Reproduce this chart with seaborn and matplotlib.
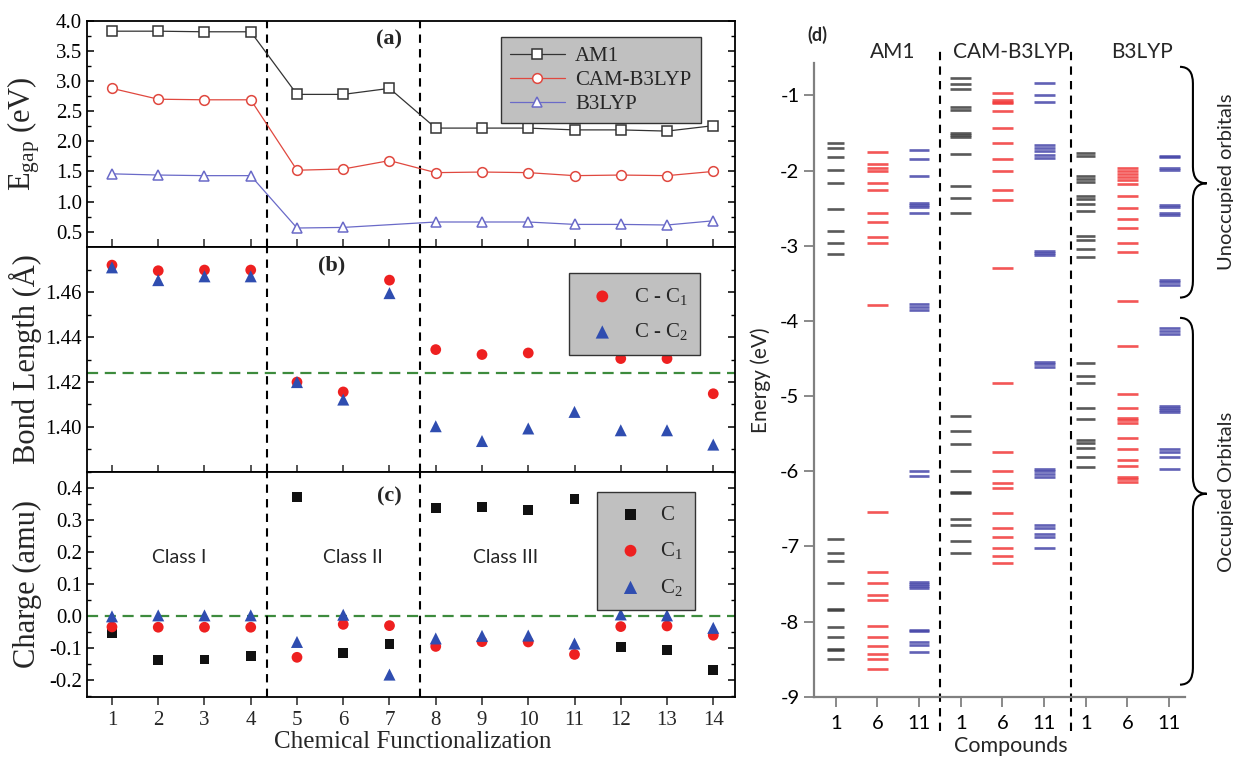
import numpy as np
import pandas as pd
import matplotlib
matplotlib.use("Agg")
import matplotlib.pyplot as plt
import seaborn as sns
from matplotlib.path import Path
from matplotlib.patches import PathPatch
from matplotlib.ticker import MultipleLocator, FormatStrFormatter, FixedLocator

# ---------------- data: panels (a)-(c) ----------------
functionalization = list(range(1, 15))

gap_am1 = [3.83, 3.83, 3.82, 3.82, 2.78, 2.78, 2.88, 2.22, 2.22, 2.22, 2.19, 2.19, 2.17, 2.26]
gap_cam = [2.88, 2.70, 2.69, 2.69, 1.52, 1.54, 1.68, 1.48, 1.49, 1.48, 1.43, 1.44, 1.43, 1.50]
gap_b3lyp = [1.46, 1.44, 1.43, 1.43, 0.56, 0.57, np.nan, 0.66, 0.66, 0.66, 0.62, 0.62, 0.61, 0.68]

bond_c_c1 = [1.4722, 1.4697, 1.4700, 1.4700, 1.4200, 1.4156, 1.4655, 1.4345, 1.4323, 1.4330,
             1.4360, 1.4305, 1.4305, 1.4148]
bond_c_c2 = [1.4712, 1.4655, 1.4672, 1.4672, 1.4200, 1.4122, 1.4597, 1.4003, 1.3937, 1.3993,
             1.4067, 1.3985, 1.3985, 1.3921]
bond_ref = 1.424
bond_ticks = [1.40, 1.42, 1.44, 1.46]

charge_c = [-0.053, -0.136, -0.135, -0.125, 0.374, -0.114, -0.086, 0.339, 0.342, 0.332,
            0.368, -0.096, -0.105, -0.168]
charge_c1 = [-0.033, -0.034, -0.034, -0.034, -0.128, -0.025, -0.029, -0.094, -0.079, -0.080,
             -0.119, -0.032, -0.030, -0.059]
charge_c2 = [0.0, 0.003, 0.003, 0.003, -0.080, 0.005, -0.182, -0.069, -0.061, -0.060,
             -0.085, 0.006, 0.003, -0.036]
charge_ref = 0.0

class_labels = ["Class I", "Class II", "Class III"]
class_label_x = [2.45, 6.2, 9.5]
class_bounds = [4.35, 7.67]

# ---------------- data: panel (d) energy levels (eV) ----------------
methods = ["AM1", "CAM-B3LYP", "B3LYP"]
compounds = ["1", "6", "11"]

am1_c1 = [-1.64, -1.70, -1.82, -1.99, -2.17, -2.51, -2.80, -2.96, -3.11,
          -6.90, -7.09, -7.20, -7.49, -7.83, -7.85, -8.07, -8.20, -8.36, -8.38, -8.50]
am1_c6 = [-1.75, -1.91, -1.97, -2.00, -2.17, -2.26, -2.56, -2.69, -2.89, -2.96, -3.79,
          -6.54, -7.34, -7.49, -7.65, -7.71, -8.06, -8.20, -8.33, -8.43, -8.50, -8.63]
am1_c11 = [-1.72, -1.84, -2.07, -2.43, -2.46, -2.49, -2.57, -3.78, -3.82, -3.85,
           -6.00, -6.06, -7.47, -7.50, -7.53, -7.56, -8.11, -8.13, -8.27, -8.31, -8.40]

cam_c1 = [-0.77, -0.85, -0.91, -1.16, -1.20, -1.50, -1.53, -1.56, -1.78, -2.21, -2.37, -2.57,
          -5.27, -5.47, -5.64, -6.00, -6.28, -6.29, -6.63, -6.72, -6.93, -7.09]
cam_c6 = [-0.97, -1.06, -1.09, -1.10, -1.21, -1.43, -1.64, -1.84, -2.00, -2.26, -2.39, -3.30,
          -4.83, -5.74, -6.00, -6.16, -6.23, -6.56, -6.75, -6.88, -7.02, -7.13, -7.22]
cam_c11 = [-0.84, -1.00, -1.09, -1.66, -1.70, -1.74, -1.79, -1.83, -3.07, -3.10, -3.13,
           -4.55, -4.58, -4.61, -5.97, -6.00, -6.04, -6.08, -6.71, -6.75, -6.83, -6.87, -7.02]

b3lyp_c1 = [-1.77, -1.81, -2.07, -2.11, -2.15, -2.34, -2.38, -2.44, -2.54, -2.87, -2.92, -3.04, -3.15,
            -4.56, -4.73, -4.83, -5.16, -5.31, -5.58, -5.62, -5.69, -5.81, -5.94]
b3lyp_c6 = [-1.96, -2.00, -2.05, -2.09, -2.13, -2.18, -2.34, -2.50, -2.64, -2.76, -2.96, -3.08, -3.73,
            -4.33, -4.97, -5.16, -5.29, -5.32, -5.36, -5.56, -5.71, -5.85, -5.93, -6.08, -6.11, -6.14]
b3lyp_c11 = [-1.80, -1.82, -1.96, -1.99, -2.46, -2.49, -2.56, -2.59, -3.45, -3.48, -3.52,
             -4.10, -4.13, -4.17, -5.13, -5.16, -5.19, -5.21, -5.71, -5.74, -5.81, -5.97]

level_sets = {
    "AM1": [am1_c1, am1_c6, am1_c11],
    "CAM-B3LYP": [cam_c1, cam_c6, cam_c11],
    "B3LYP": [b3lyp_c1, b3lyp_c6, b3lyp_c11],
}

# ---------------- style ----------------
sns.set_theme(style="ticks")
plt.rcParams["font.family"] = ["Liberation Serif", "DejaVu Serif"]
plt.rcParams["mathtext.fontset"] = "custom"
plt.rcParams["mathtext.rm"] = "Liberation Serif"
plt.rcParams["mathtext.it"] = "Liberation Serif:italic"
plt.rcParams["mathtext.bf"] = "Liberation Serif:bold"
plt.rcParams["axes.linewidth"] = 1.3
SANS = ["Lato", "DejaVu Sans"]

fig = plt.figure(figsize=(12.33, 7.59), dpi=100)
L, W = 87 / 1233, 648 / 1233
ax_a = fig.add_axes([L, 0.675, W, 0.2974])
ax_b = fig.add_axes([L, 0.3785, W, 0.2964])
ax_c = fig.add_axes([L, 0.0817, W, 0.2968])
ax_d = fig.add_axes([814 / 1233, 0.0821, 371 / 1233, 0.8353])

TICK_FS = 15
# ---------------- panel (a) ----------------
df_gap = pd.DataFrame({"x": functionalization, "AM1": gap_am1,
                       "CAM-B3LYP": gap_cam, "B3LYP": gap_b3lyp})
gap_styles = {"AM1": ("#333333", "s"), "CAM-B3LYP": ("#e0483f", "o"), "B3LYP": ("#6a6ac8", "^")}
for m in ["AM1", "CAM-B3LYP", "B3LYP"]:
    col, mk = gap_styles[m]
    sub = df_gap[["x", m]].dropna()
    sns.lineplot(data=sub, x="x", y=m, ax=ax_a, color=col, marker=mk,
                 markersize=7 if mk != "s" else 6.5,
                 markerfacecolor="white", markeredgecolor=col, markeredgewidth=1.1,
                 linewidth=0.9, label=m)
ax_a.set_ylim(0.25, 4.0)
ax_a.yaxis.set_major_locator(MultipleLocator(0.5))
ax_a.yaxis.set_minor_locator(MultipleLocator(0.25))
ax_a.yaxis.set_major_formatter(FormatStrFormatter("%.1f"))
ax_a.set_ylabel(r"E$_\mathregular{gap}$ (eV)", fontsize=22)
leg = ax_a.legend(loc="upper right", bbox_to_anchor=(0.963, 0.973), fontsize=15,
                  frameon=True, fancybox=False, facecolor="#c0c0c0", edgecolor="#333333",
                  framealpha=1, handlelength=2.6, borderpad=0.45, labelspacing=0.2,
                  handletextpad=0.5)
leg.get_frame().set_linewidth(1.0)
ax_a.text(7.0, 3.7, "(a)", fontsize=16, fontweight="bold", ha="center", va="center")

# ---------------- panel (b) ----------------
df_bond = pd.DataFrame({"x": functionalization, "c1": bond_c_c1, "c2": bond_c_c2})
ax_b.axhline(bond_ref, color="#3d8b3d", lw=1.6, ls=(0, (5, 3)), zorder=1)
sns.scatterplot(data=df_bond, x="x", y="c1", ax=ax_b, marker="o", color="#ee2020", s=60,
                edgecolor="none", label=r"C - C$_\mathregular{1}$", zorder=3)
sns.scatterplot(data=df_bond, x="x", y="c2", ax=ax_b, marker="^", color="#2f4db0", s=75,
                edgecolor="none", label=r"C - C$_\mathregular{2}$", zorder=4)
ax_b.set_ylim(1.38, 1.4804)
ax_b.yaxis.set_major_locator(FixedLocator(bond_ticks))
ax_b.yaxis.set_minor_locator(FixedLocator([1.39, 1.41, 1.43, 1.45, 1.47]))
ax_b.yaxis.set_major_formatter(FormatStrFormatter("%.2f"))
ax_b.set_ylabel("Bond Length (Å)", fontsize=22)
leg = ax_b.legend(loc="upper right", bbox_to_anchor=(0.962, 0.928), fontsize=15,
                  frameon=True, fancybox=False, facecolor="#c0c0c0", edgecolor="#333333",
                  framealpha=1, handletextpad=0.5, borderpad=0.6, labelspacing=0.7,
                  markerscale=1.1)
leg.get_frame().set_linewidth(1.0)
ax_b.text(5.75, 1.472, "(b)", fontsize=16, fontweight="bold", ha="center", va="center")

# ---------------- panel (c) ----------------
df_ch = pd.DataFrame({"x": functionalization, "C": charge_c, "C1": charge_c1, "C2": charge_c2})
ax_c.axhline(charge_ref, color="#3d8b3d", lw=1.6, ls=(0, (5, 3)), zorder=1)
sns.scatterplot(data=df_ch, x="x", y="C", ax=ax_c, marker="s", color="#111111", s=50,
                edgecolor="none", label="C", zorder=3)
sns.scatterplot(data=df_ch, x="x", y="C1", ax=ax_c, marker="o", color="#ee2020", s=60,
                edgecolor="none", label=r"C$_\mathregular{1}$", zorder=4)
sns.scatterplot(data=df_ch, x="x", y="C2", ax=ax_c, marker="^", color="#2f4db0", s=75,
                edgecolor="none", label=r"C$_\mathregular{2}$", zorder=5)
ax_c.set_ylim(-0.252, 0.452)
ax_c.yaxis.set_major_locator(MultipleLocator(0.1))
ax_c.yaxis.set_minor_locator(MultipleLocator(0.05))
ax_c.yaxis.set_major_formatter(FormatStrFormatter("%.1f"))
ax_c.set_ylabel("Charge (amu)", fontsize=22)
ax_c.set_xlabel("Chemical Functionalization", fontsize=18)
leg = ax_c.legend(loc="upper right", bbox_to_anchor=(0.954, 0.954), fontsize=15,
                  frameon=True, fancybox=False, facecolor="#c0c0c0", edgecolor="#333333",
                  framealpha=1, handletextpad=0.4, borderpad=0.6, labelspacing=0.75,
                  markerscale=1.1)
leg.get_frame().set_linewidth(1.0)
ax_c.text(7.0, 0.375, "(c)", fontsize=16, fontweight="bold", ha="center", va="center")
for lab, lx in zip(class_labels, class_label_x):
    ax_c.text(lx, 0.185, lab, fontsize=14, ha="center", va="center", family=SANS)

# common styling for left panels
for ax in (ax_a, ax_b, ax_c):
    ax.set_xlim(0.46, 14.47)
    ax.set_xticks(functionalization)
    for xb in class_bounds:
        ax.axvline(xb, color="black", lw=1.5, ls=(0, (4, 3)), zorder=1)
    for s in ax.spines.values():
        s.set_visible(True)
        s.set_color("black")
        s.set_linewidth(1.3)
    ax.tick_params(axis="y", which="both", direction="in", left=True, right=True,
                   labelsize=TICK_FS, colors="black")
    ax.tick_params(axis="y", which="major", length=5, width=1.1)
    ax.tick_params(axis="y", which="minor", length=3, width=1.0)
    ax.yaxis.set_label_coords(-0.07, 0.5)
    ax.grid(False)

ax_a.tick_params(axis="x", direction="in", length=6, width=1.1, top=False,
                 labelbottom=False)
ax_a.set_xlabel("")
ax_b.tick_params(axis="x", direction="inout", length=10, width=1.1, top=False,
                 labelbottom=False)
ax_b.set_xlabel("")
ax_c.tick_params(axis="x", direction="out", length=6, width=1.1, top=False,
                 labelsize=TICK_FS, pad=4)
ax_c.xaxis.set_label_coords(0.503, -0.15)

# ---------------- panel (d) ----------------
rows = []
for gi, m in enumerate(methods):
    for ci, cmp in enumerate(compounds):
        for e in level_sets[m][ci]:
            rows.append({"method": m, "compound": cmp, "pos": 3 * gi + ci, "energy": e})
df_lv = pd.DataFrame(rows)
level_colors = {"1": "#3c3c3c", "6": "#f23838", "11": "#4545a8"}
half_w = {("AM1", "1"): 0.21, ("B3LYP", "1"): 0.23}
for (m, cmp), sub in df_lv.groupby(["method", "compound"], sort=False):
    hw = half_w.get((m, cmp), 0.25)
    ax_d.hlines(sub["energy"], sub["pos"] - hw, sub["pos"] + hw,
                colors=level_colors[cmp], lw=1.9, alpha=0.85)

ax_d.set_xlim(-0.52, 8.38)
ax_d.set_ylim(-9, -0.565)
ax_d.set_yticks(range(-9, 0))
ax_d.set_yticklabels([str(v) for v in range(-9, 0)], family=SANS)
ax_d.set_xticks(range(9))
ax_d.set_xticklabels(compounds * 3, family=SANS)
sns.despine(ax=ax_d)
for s in ("left", "bottom"):
    ax_d.spines[s].set_color("#808080")
    ax_d.spines[s].set_linewidth(1.6)
ax_d.tick_params(axis="both", direction="out", length=7, width=1.3, color="#808080",
                 labelsize=14.5, labelcolor="black")
ax_d.tick_params(axis="x", pad=6)
ax_d.grid(False)
ax_d.set_ylabel("Energy (eV)", fontsize=15, family=SANS)
ax_d.yaxis.set_label_coords(-0.115, 0.5)
ax_d.set_xlabel("Compounds", fontsize=15.5, family=SANS)
ax_d.xaxis.set_label_coords(0.53, -0.062)
for xb in (2.5, 5.64):
    ax_d.plot([xb, xb], [-9.45, -0.36], color="black", lw=1.5, ls=(0, (4, 3)),
              clip_on=False)
for m, mx in zip(methods, [1.37, 4.22, 7.34]):
    ax_d.text(mx, -0.42, m, fontsize=15, ha="center", va="center", family=SANS)
ax_d.text(-0.45, -0.2, "(d)", fontsize=13, fontweight="bold", ha="center", va="center",
          family=SANS)


def brace(ax, y_bot, y_top, y_tip, x_base, x_mid, x_tip, r):
    verts = [(x_base, y_top), (x_mid, y_top), (x_mid, y_top - r),
             (x_mid, y_tip + r), (x_mid, y_tip), (x_tip, y_tip),
             (x_mid, y_tip), (x_mid, y_tip - r),
             (x_mid, y_bot + r), (x_mid, y_bot), (x_base, y_bot)]
    codes = [Path.MOVETO, Path.CURVE3, Path.CURVE3, Path.LINETO, Path.CURVE3, Path.CURVE3,
             Path.CURVE3, Path.CURVE3, Path.LINETO, Path.CURVE3, Path.CURVE3]
    ax.add_patch(PathPatch(Path(verts, codes), fc="none", ec="black", lw=1.5,
                           clip_on=False))


brace(ax_d, -3.69, -0.62, -2.17, 8.26, 8.57, 8.90, 0.22)
brace(ax_d, -8.84, -3.96, -6.30, 8.26, 8.57, 8.90, 0.22)
ax_d.text(9.38, -2.15, "Unoccupied orbitals", rotation=90, fontsize=14.5, ha="center",
          va="center", family=SANS)
ax_d.text(9.38, -6.28, "Occupied Orbitals", rotation=90, fontsize=14.5, ha="center",
          va="center", family=SANS)

fig.savefig("out.png", dpi=100)
